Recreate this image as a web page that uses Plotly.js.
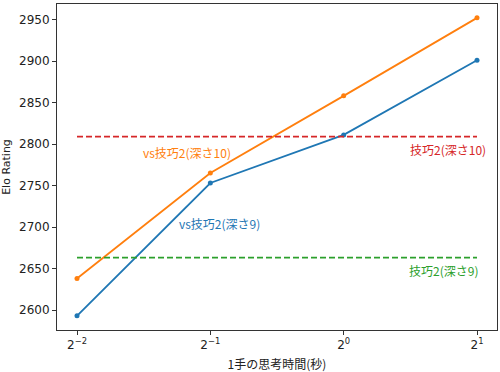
<!DOCTYPE html>
<html><head><meta charset="utf-8">
<script src="https://cdn.plot.ly/plotly-3.0.1.min.js"></script>
<style>body{margin:0}#c{width:500px;height:372px}</style>
</head><body><div id="c"></div>
<script>
const times = [0.25, 0.5, 1, 2];
const tickLabels = ["2<sup>−2</sup>", "2<sup>−1</sup>", "2<sup>0</sup>", "2<sup>1</sup>"];
const vsDepth9 = [2593, 2753, 2811, 2901];
const vsDepth10 = [2638, 2765, 2858, 2952];
const baseDepth10 = 2809;
const baseDepth9 = 2663;
const labels = {vs9: "vs技巧2(深さ9)", vs10: "vs技巧2(深さ10)", b10: "技巧2(深さ10)", b9: "技巧2(深さ9)"};

const blue = "#1f77b4", orange = "#ff7f0e", red = "#d62728", green = "#2ca02c";
const FONT = "DejaVu Sans, Noto Sans CJK JP, sans-serif";
const JFONT = "Noto Sans CJK JP, DejaVu Sans, sans-serif";

const traces = [
  {x: times, y: vsDepth9, mode: "lines+markers", line: {color: blue, width: 1.8}, marker: {size: 5, color: blue}},
  {x: times, y: vsDepth10, mode: "lines+markers", line: {color: orange, width: 1.8}, marker: {size: 5, color: orange}},
  {x: [times[0], times[times.length-1]], y: [baseDepth10, baseDepth10], mode: "lines", line: {color: red, width: 1.8, dash: "6px,3px"}},
  {x: [times[0], times[times.length-1]], y: [baseDepth9, baseDepth9], mode: "lines", line: {color: green, width: 1.8, dash: "6px,3px"}}
];

const layout = {
  width: 500, height: 372,
  margin: {l: 57, r: 3, t: 4, b: 42},
  showlegend: false,
  paper_bgcolor: "white", plot_bgcolor: "white",
  font: {family: FONT, size: 12, color: "#222"},
  xaxis: {
    type: "log", range: [Math.log10(0.25) - 0.15*Math.log10(2), Math.log10(2) + 0.15*Math.log10(2)],
    tickvals: times, ticktext: tickLabels,
    showgrid: false, zeroline: false, showline: true, mirror: true, linecolor: "#333", linewidth: 1,
    ticks: "outside", ticklen: 4, tickcolor: "#333",
    title: {text: "1手の思考時間(秒)", font: {family: JFONT, size: 12}, standoff: 10}
  },
  yaxis: {
    range: [2575.9, 2968.7], tickvals: [2600, 2650, 2700, 2750, 2800, 2850, 2900, 2950],
    showgrid: false, zeroline: false, showline: true, mirror: true, linecolor: "#333", linewidth: 1,
    ticks: "outside", ticklen: 4, tickcolor: "#333",
    title: {text: "Elo Rating", font: {family: FONT, size: 11}, standoff: 8}
  },
  annotations: [
    {x: 0.2955, y: 2789.5, xref: "paper", yref: "y", text: labels.vs10, showarrow: false, xanchor: "center", yanchor: "middle", font: {family: JFONT, size: 12, color: orange}},
    {x: 0.9795, y: 2793, xref: "paper", yref: "y", text: labels.b10, showarrow: false, xanchor: "right", yanchor: "middle", font: {family: JFONT, size: 12, color: red}},
    {x: 0.2727, y: 2703.8, xref: "paper", yref: "y", text: labels.vs9, showarrow: false, xanchor: "left", yanchor: "middle", font: {family: JFONT, size: 12, color: blue}},
    {x: 0.9614, y: 2647, xref: "paper", yref: "y", text: labels.b9, showarrow: false, xanchor: "right", yanchor: "middle", font: {family: JFONT, size: 12, color: green}}
  ]
};
Plotly.newPlot("c", traces, layout, {staticPlot: true});
</script></body></html>
